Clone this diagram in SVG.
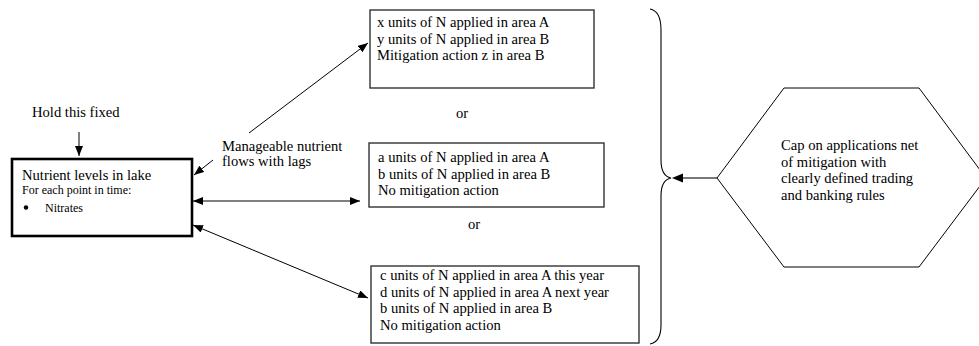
<svg xmlns="http://www.w3.org/2000/svg" width="979" height="346" viewBox="0 0 979 346">
<style>
text{font-family:"Liberation Serif","Times New Roman",serif;fill:#000}
.t{font-size:14.6px}
.s{font-size:12px}
.box{fill:#fff;stroke:#333;stroke-width:1.4}
.ln{stroke:#000;stroke-width:1;fill:none}
</style>
<defs>
<marker id="ah" viewBox="0 0 10 8" refX="10" refY="4" markerWidth="10" markerHeight="8" markerUnits="userSpaceOnUse" orient="auto-start-reverse">
<path d="M0,0 L10,4 L0,8 z" fill="#000"/>
</marker>
</defs>
<g id="connectors">
<line class="ln" x1="79" y1="132" x2="79" y2="156" marker-end="url(#ah)"/>
<line class="ln" x1="213" y1="160" x2="194" y2="175" marker-end="url(#ah)"/>
<line class="ln" x1="249" y1="133" x2="368" y2="43" marker-end="url(#ah)"/>
<line class="ln" x1="193" y1="201" x2="360" y2="201" marker-start="url(#ah)" marker-end="url(#ah)"/>
<line class="ln" x1="193" y1="225" x2="368" y2="298" marker-start="url(#ah)" marker-end="url(#ah)"/>
<line x1="717" y1="178" x2="683" y2="178" stroke="#777" stroke-width="2"/>
<path d="M683,173.5 L672,178 L683,182.5 z" fill="#000"/>
</g>
<g id="hold">
<text class="t" x="32" y="117">Hold this fixed</text>
</g>
<g id="lake">
<rect x="12" y="159" width="180" height="77" fill="#fff" stroke="#000" stroke-width="2.6"/>
<text class="t" x="22" y="180">Nutrient levels in lake</text>
<text class="s" x="22" y="194">For each point in time:</text>
<circle cx="26" cy="207.5" r="2.2" fill="#000"/>
<text class="s" x="45" y="212">Nitrates</text>
</g>
<g id="flows-label">
<text class="t" x="222" y="151">Manageable nutrient</text>
<text class="t" x="222" y="166">flows with lags</text>
</g>
<g id="option1">
<rect class="box" x="370" y="10" width="224" height="78"/>
<text class="t" x="377" y="27">x units of N applied in area A</text>
<text class="t" x="377" y="43.5">y units of N applied in area B</text>
<text class="t" x="377" y="60">Mitigation action z in area B</text>
</g>
<g id="or1"><text class="t" x="462" y="118" text-anchor="middle">or</text></g>
<g id="option2">
<rect class="box" x="369" y="143" width="235" height="64"/>
<text class="t" x="378" y="162">a units of N applied in area A</text>
<text class="t" x="378" y="178.5">b units of N applied in area B</text>
<text class="t" x="378" y="195">No mitigation action</text>
</g>
<g id="or2"><text class="t" x="474" y="229" text-anchor="middle">or</text></g>
<g id="option3">
<rect class="box" x="371" y="266" width="268" height="77"/>
<text class="t" x="380" y="280">c units of N applied in area A this year</text>
<text class="t" x="380" y="296.5">d units of N applied in area A next year</text>
<text class="t" x="380" y="313">b units of N applied in area B</text>
<text class="t" x="380" y="329.5">No mitigation action</text>
</g>
<g id="brace">
<path d="M650,9 Q661,11 661,30 L661,160 Q661,176 671,178 Q661,180 661,196 L661,325 Q661,342 650,344" fill="none" stroke="#000" stroke-width="1.1"/>
</g>
<g id="cap">
<polygon points="784,88 919,88 986,178 919,267 784,267 717,178" fill="#fff" stroke="#000" stroke-width="1"/>
<text class="t" x="781" y="150">Cap on applications net</text>
<text class="t" x="781" y="166.5">of mitigation with</text>
<text class="t" x="781" y="183">clearly defined trading</text>
<text class="t" x="781" y="199.5">and banking rules</text>
</g>
</svg>
